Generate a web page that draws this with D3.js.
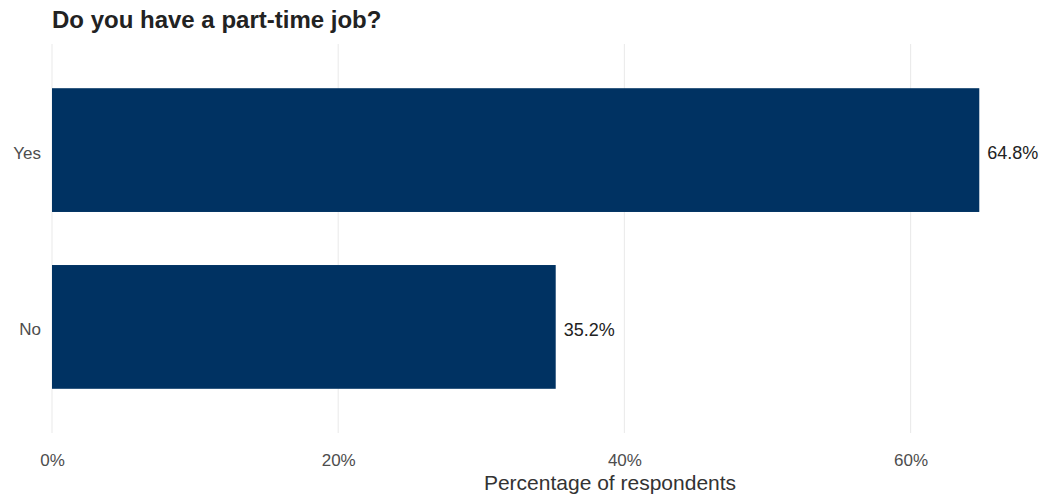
<!DOCTYPE html>
<html>
<head>
<meta charset="utf-8">
<script src="https://cdn.jsdelivr.net/npm/d3@7"></script>
<style>
body { margin: 0; background: #fff; }
text { font-family: "Liberation Sans", Arial, sans-serif; }
</style>
</head>
<body>
<div id="chart"></div>
<script>
var svgWidth = 1044;
var svgHeight = 497;

var answers = ['Yes', 'No'];
var percents = [64.8, 35.2];
var xTicks = [0, 20, 40, 60];

var x0 = 52;
var pxPerPct = 14.31;

var svg = d3.select('#chart').append('svg')
    .attr('width', svgWidth)
    .attr('height', svgHeight);

var xScale = d3.scaleLinear()
    .domain([0, 60])
    .range([x0, x0 + 60 * pxPerPct]);

var yScale = d3.scaleBand()
    .domain(answers)
    .range([44, 433])
    .paddingInner(0.3)
    .paddingOuter(0.25);

// title
svg.append('text')
    .attr('x', 52)
    .attr('y', 28)
    .attr('font-size', '24px')
    .attr('font-weight', 'bold')
    .attr('fill', '#222')
    .text('Do you have a part-time job?');

// grid
svg.append('g')
    .selectAll('line')
    .data(xTicks)
    .enter()
    .append('line')
    .attr('x1', d => xScale(d))
    .attr('x2', d => xScale(d))
    .attr('y1', 44)
    .attr('y2', 433)
    .attr('stroke', '#ebebeb')
    .attr('stroke-width', 1.1);

var xAxis = d3.axisBottom(xScale)
    .tickValues(xTicks)
    .tickFormat(d => d + '%')
    .tickSize(0)
    .tickPadding(0);

var xg = svg.append('g')
    .attr('transform', 'translate(0, 454)')
    .call(xAxis);
xg.select('.domain').remove();
xg.selectAll('text')
    .attr('font-size', '17px')
    .attr('fill', '#4d4d4d')
    .attr('dy', '0.71em')
    .style('font-family', '"Liberation Sans", Arial, sans-serif');

var yAxis = d3.axisLeft(yScale).tickSize(0).tickPadding(0);
var yg = svg.append('g')
    .attr('transform', 'translate(41, 3)')
    .call(yAxis);
yg.select('.domain').remove();
yg.selectAll('text')
    .attr('font-size', '17px')
    .attr('fill', '#4d4d4d')
    .style('font-family', '"Liberation Sans", Arial, sans-serif');

// bars
var rows = answers.map((a, i) => ({answer: a, pct: percents[i]}));

svg.append('g')
    .selectAll('rect')
    .data(rows)
    .enter()
    .append('rect')
    .attr('x', xScale(0))
    .attr('y', d => yScale(d.answer))
    .attr('width', d => xScale(d.pct) - xScale(0))
    .attr('height', yScale.bandwidth())
    .attr('fill', '#003262');

svg.append('g')
    .selectAll('text')
    .data(rows)
    .enter()
    .append('text')
    .attr('x', d => xScale(d.pct) + 8)
    .attr('y', d => yScale(d.answer) + yScale.bandwidth() / 2 + 3)
    .attr('dy', '0.35em')
    .attr('font-size', '18px')
    .attr('fill', '#222')
    .text(d => d.pct.toFixed(1) + '%');

svg.append('text')
    .attr('x', 610)
    .attr('y', 490)
    .attr('text-anchor', 'middle')
    .attr('font-size', '21px')
    .attr('fill', '#333')
    .text('Percentage of respondents');
</script>
</body>
</html>
